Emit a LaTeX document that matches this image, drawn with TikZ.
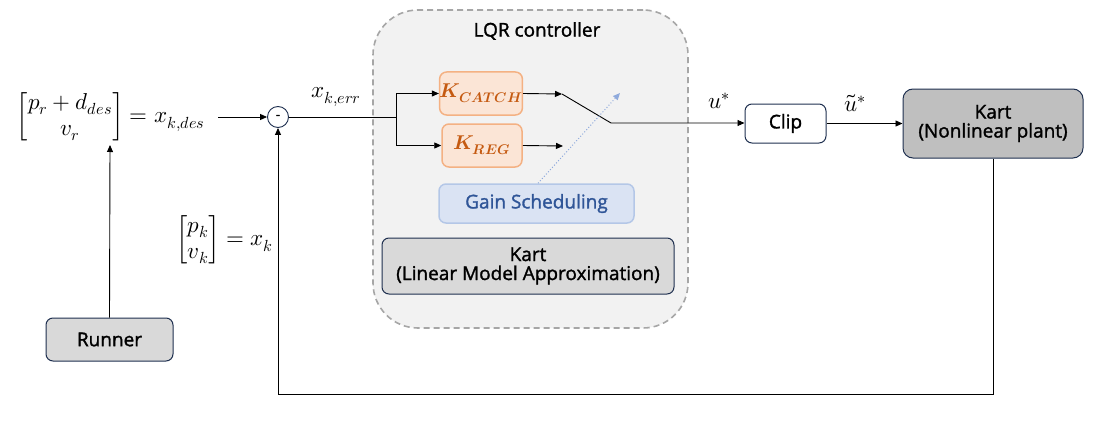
\documentclass[tikz,border=0pt]{standalone}
\usepackage{fontspec}
\usepackage{unicode-math}
\setmathfont{Latin Modern Math}
\newfontfamily\boxfont{Open Sans}[FakeBold=1.5]
\usetikzlibrary{arrows.meta,calc}
\definecolor{navy}{HTML}{1F3050}
\definecolor{lqrfill}{HTML}{F2F2F2}
\definecolor{lqrdraw}{HTML}{A6A6A6}
\definecolor{kfill}{HTML}{FBE5D6}
\definecolor{kdraw}{HTML}{F4B183}
\definecolor{ktext}{HTML}{C55A11}
\definecolor{gfill}{HTML}{DAE3F3}
\definecolor{gdraw}{HTML}{B4C7E7}
\definecolor{gtext}{HTML}{2F5597}
\definecolor{garrow}{HTML}{8FAADC}
\definecolor{kartlin}{HTML}{D9D9D9}
\definecolor{kartnl}{HTML}{BFBFBF}
\begin{document}
\begin{tikzpicture}[x=1pt,y=-1pt,font=\boxfont\fontsize{19}{22}\selectfont,
  >={Triangle[length=7pt,width=6pt]},
  box/.style={rounded corners=7pt,inner sep=0pt,align=center,line width=1pt},
  kbox/.style={box,draw=kdraw,fill=kfill,text=ktext,line width=1.5pt,font=\fontsize{20}{22}\selectfont},
  mathlbl/.style={inner sep=0pt,font=\fontsize{23}{26}\selectfont},
  wire/.style={line width=0.9pt}]
\useasboundingbox (0,0) rectangle (1111,428);
% LQR container
\node[draw=lqrdraw,fill=lqrfill,dash pattern=on 6pt off 4pt,line width=1.6pt,
  rounded corners=45pt,minimum width=315pt,minimum height=318pt] (lqr) at (530.5,169) {};
\node (lqrt) at (537,31) {LQR controller};
% blocks
\node[kbox,minimum width=82pt,minimum height=43pt] (kc) at (481,93.5) {$\symbfit{K}_{\symbfit{CATCH}}$};
\node[kbox,minimum width=80pt,minimum height=43pt] (kr) at (482,145.5) {$\symbfit{K}_{\symbfit{REG}}$};
\node[box,draw=gdraw,fill=gfill,text=gtext,line width=1.5pt,minimum width=195pt,minimum height=39pt] (gs) at (536.5,203.5) {Gain Scheduling};
\node[box,draw=navy,fill=kartlin,minimum width=292pt,minimum height=56pt] (klin) at (528,266) {Kart\\[-3pt](Linear Model Approximation)};
\node[box,draw=navy,fill=white,minimum width=81pt,minimum height=39pt] (clip) at (785.5,123.5) {Clip};
\node[box,draw=navy,fill=kartnl,rounded corners=10pt,minimum width=180pt,minimum height=69pt] (knl) at (993,123.5) {Kart\\[-3pt](Nonlinear plant)};
\node[box,draw=navy,fill=kartlin,minimum width=127pt,minimum height=43pt] (run) at (109.5,339.5) {Runner};
% summing junction
\node[circle,draw=navy,fill=white,line width=0.9pt,minimum size=21pt,inner sep=0pt,font=\boxfont\fontsize{13}{13}\selectfont] (sum) at (278,117) {-};
% math labels
\node[mathlbl,anchor=east] (xdes) at (205,117) {$\begin{bmatrix} p_r + d_{des}\\ v_r\end{bmatrix} = x_{k,des}$};
\node[mathlbl,anchor=east] (xk) at (273,240) {$\begin{bmatrix} p_k\\ v_k\end{bmatrix} = x_k$};
\node[mathlbl] (xerr) at (336,97) {$x_{k,err}$};
\node[mathlbl] (ustar) at (719,101) {$u^{*}$};
\node[mathlbl] (utl) at (855,103) {$\tilde{u}^{*}$};
% coordinates
\coordinate (xdesout) at (218,117);
\coordinate (xdesbot) at (110,145);
\coordinate (split) at (396,117);
\coordinate (sw1) at (562,94);
\coordinate (sw2) at (563,146);
\coordinate (sw3) at (611,123);
\coordinate (gsend) at (620,93);
\coordinate (fbc) at (278,394);
% connectors
\draw[wire,->] (xdesout) -- (sum.west);
\draw[wire,->] (run.north) -- (xdesbot);
\draw[wire] (sum.east) -- (split);
\draw[wire,->] (split) |- (kc.west);
\draw[wire,->] (split) |- (kr.west);
\draw[wire,->] (kc.east) -- (sw1);
\draw[wire,->] (kr.east) -- (sw2);
\draw[wire,->] (sw1) -- (sw3) -- (sw3 -| clip.west);
\draw[garrow,line width=1pt,dotted,-{Triangle[length=7pt,width=6pt]}] ($(gs.north)+(1.5,0)$) -- (gsend);
\draw[wire,->] (clip.east) -- (knl.west);
\draw[wire,->] (knl.south) |- (fbc) -- (sum.south);
\end{tikzpicture}
\end{document}
